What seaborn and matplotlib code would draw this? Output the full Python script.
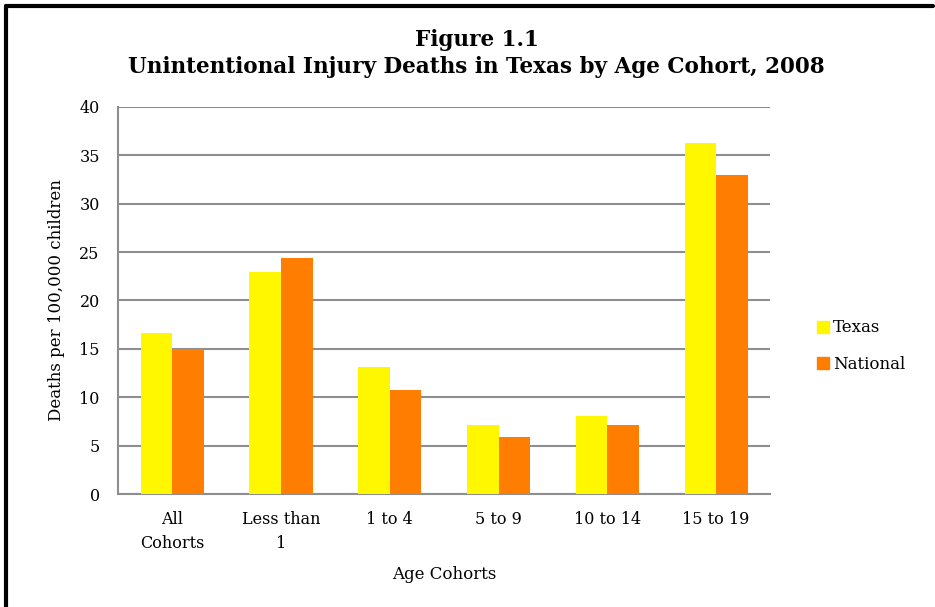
import pandas as pd
import seaborn as sns
import matplotlib.pyplot as plt
from matplotlib.lines import Line2D

cohorts = ['All\nCohorts', 'Less than\n1', '1 to 4', '5 to 9', '10 to 14', '15 to 19']
texas = [16.6, 22.9, 13.1, 7.1, 8.1, 36.3]
national = [15.0, 24.4, 10.8, 5.9, 7.1, 33.0]
series = ['Texas', 'National']
colors = {'Texas': '#FFF700', 'National': '#FF7D00'}

df = pd.DataFrame({
    'cohort': cohorts * 2,
    'region': ['Texas'] * len(cohorts) + ['National'] * len(cohorts),
    'deaths': texas + national,
})

sns.set_style('white')
plt.rcParams['font.family'] = ['DejaVu Serif']
plt.rcParams['text.color'] = 'black'
plt.rcParams['xtick.color'] = 'black'
plt.rcParams['ytick.color'] = 'black'
plt.rcParams['axes.labelcolor'] = 'black'

fig = plt.figure(figsize=(9.35, 6.07), dpi=100)
ax = fig.add_axes([0.126, 0.186, 0.698, 0.638])

sns.barplot(data=df, x='cohort', y='deaths', hue='region', hue_order=series,
            palette=colors, width=0.58, saturation=1, ax=ax, legend=False,
            linewidth=0, zorder=3)

grid_c = '#8e8e8e'
ax.set_ylim(0, 40)
ax.set_yticks(range(0, 41, 5))
ax.set_xlim(-0.5, 5.5)
ax.yaxis.grid(True, color=grid_c, linewidth=1.5, zorder=0)
ax.set_axisbelow(True)
for s in ['top', 'right']:
    ax.spines[s].set_visible(False)
for s in ['left', 'bottom']:
    ax.spines[s].set_color(grid_c)
    ax.spines[s].set_linewidth(1.5)

ax.set_xticks([x - 0.5 for x in range(7)], minor=True)
ax.tick_params(axis='x', which='major', length=0, labelsize=11.5, pad=12)
ax.tick_params(axis='x', which='minor', length=6, color=grid_c, width=1.5)
ax.tick_params(axis='y', length=6, color=grid_c, width=1.5, labelsize=11.5, pad=7)
for lbl in ax.get_xticklabels():
    lbl.set_linespacing(1.55)

ax.set_xlabel('Age Cohorts', fontsize=12, labelpad=10)
ax.set_ylabel('Deaths per 100,000 children', fontsize=12, labelpad=10)

fig.suptitle('Figure 1.1\nUnintentional Injury Deaths in Texas by Age Cohort, 2008',
             x=0.51, y=0.952, fontsize=15.5, fontweight='bold', linespacing=1.3)

handles = [Line2D([], [], marker='s', linestyle='', markersize=9,
                  markerfacecolor=colors[s], markeredgecolor=colors[s]) for s in series]
fig.legend(handles, series, loc='center left', bbox_to_anchor=(0.855, 0.43),
           frameon=False, fontsize=12, handletextpad=0.1, labelspacing=1.15,
           handlelength=1.0)

# frame lines at top and left of the figure
fig.add_artist(Line2D([0.006, 0.998], [0.99, 0.99], color='black', linewidth=3,
                      transform=fig.transFigure))
fig.add_artist(Line2D([0.006, 0.006], [0.0, 0.99], color='black', linewidth=3,
                      transform=fig.transFigure))

fig.savefig('out.png', dpi=100, facecolor='white')
